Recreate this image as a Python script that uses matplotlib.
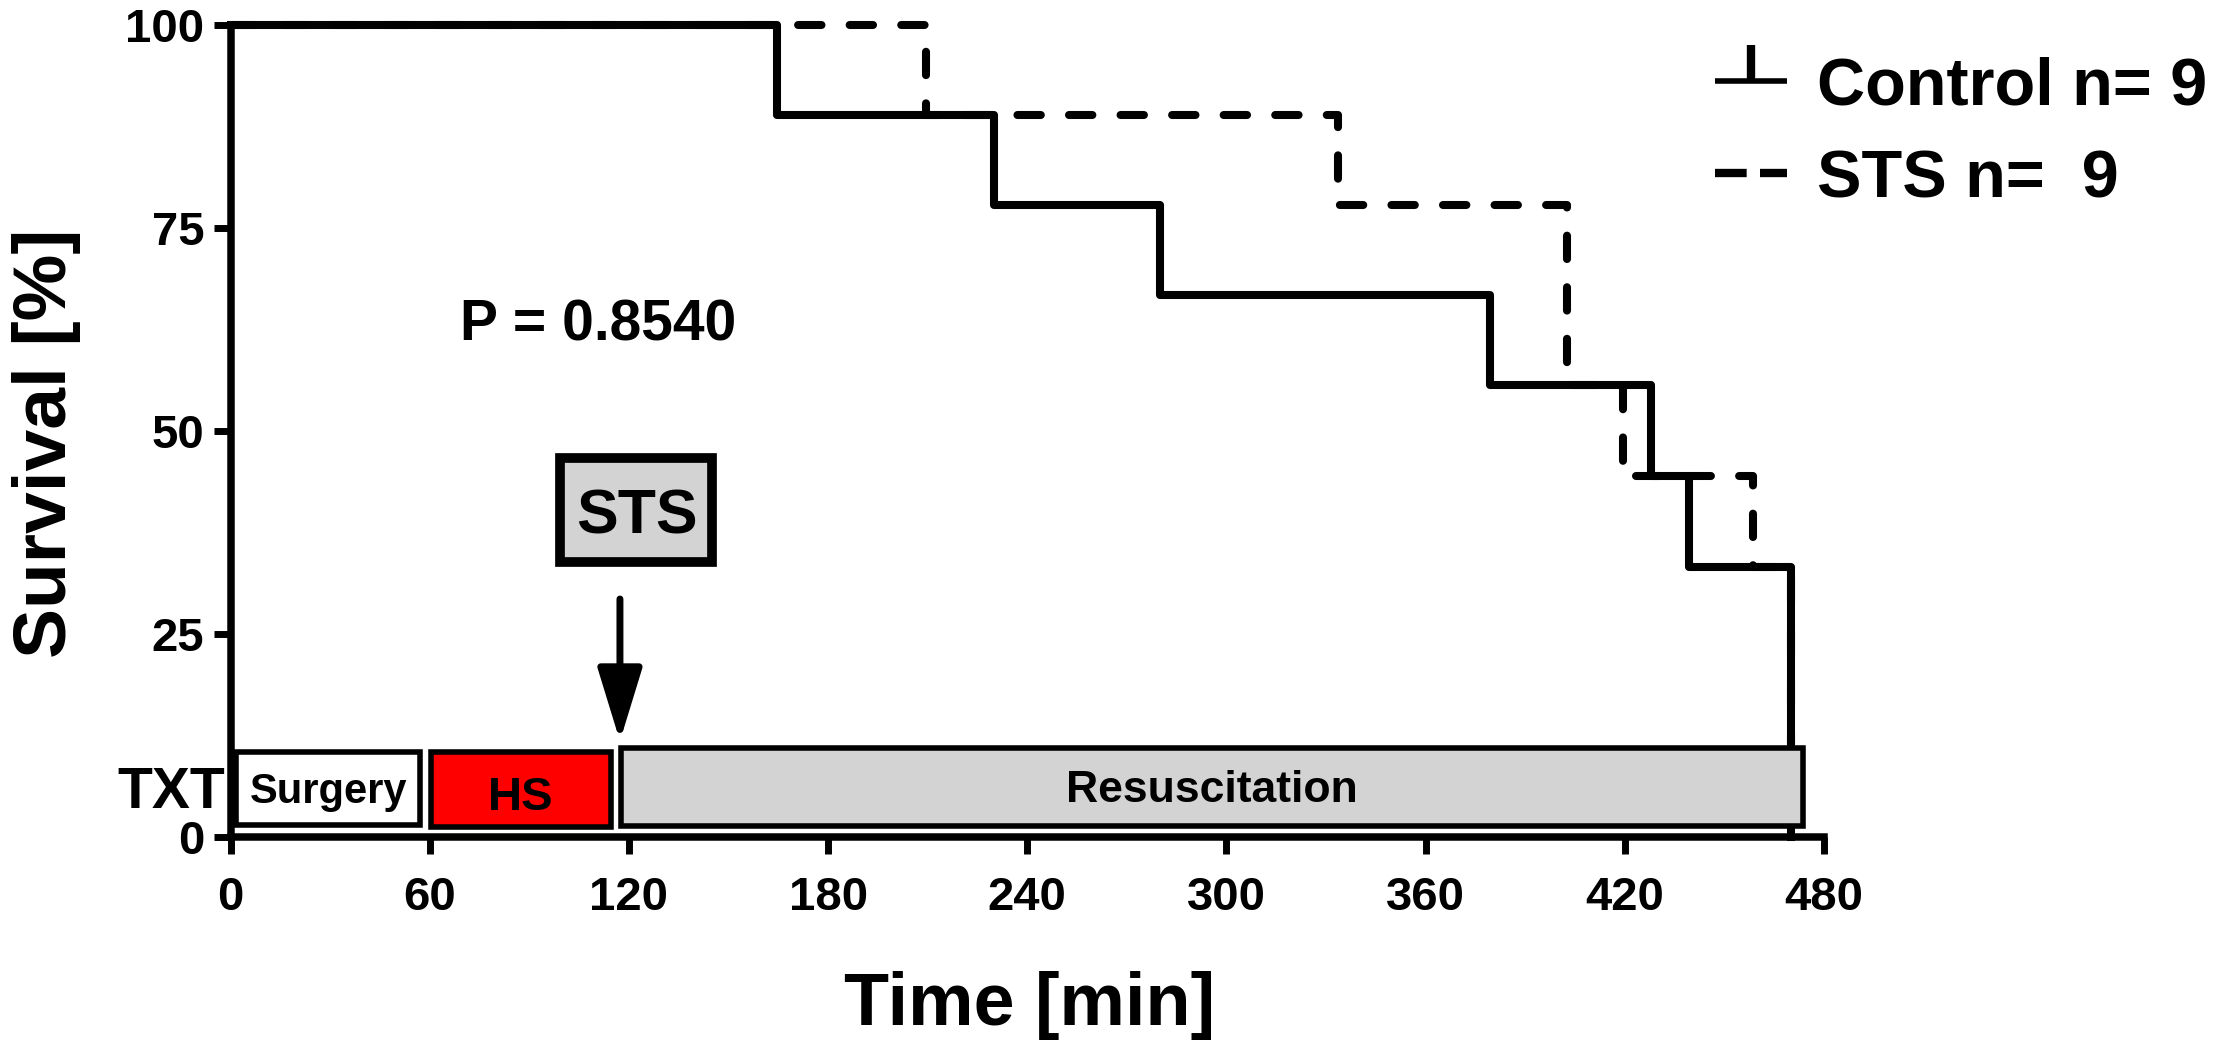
import matplotlib

matplotlib.use("Agg")
import matplotlib.pyplot as plt
from matplotlib.lines import Line2D
from matplotlib.patches import Rectangle

plt.rcParams["font.family"] = ["Liberation Sans", "DejaVu Sans"]
plt.rcParams["font.weight"] = "bold"

# Kaplan-Meier steps (time in min, survival in %)
control_t = [0, 164.5, 230, 280, 379.5, 428, 439.5, 470]
control_s = [100, 88.9, 77.8, 66.7, 55.6, 44.4, 33.3, 0]
sts_t = [0, 209.5, 333.5, 402.5, 419.5, 458.5, 470]
sts_s = [100, 88.9, 77.8, 55.6, 44.4, 33.3, 0]

# treatment timeline (TXT) phases
phases = ["Surgery", "HS", "Resuscitation"]
phase_start = [1.5, 60.5, 117.5]
phase_end = [57.2, 114.5, 473.7]
phase_lo = [1.5, 1.2, 1.35]
phase_hi = [10.4, 10.4, 11.0]
phase_color = ["white", "#ff0000", "#d3d3d3"]

xticks = [0, 60, 120, 180, 240, 300, 360, 420, 480]
yticks = [0, 25, 50, 75, 100]
legend_labels = ["Control n= 9", "STS n=  9"]
p_text = "P = 0.8540"
sts_time = 117.3

LW = 5.8
DASH = (2.9, 3.5)

fig = plt.figure(figsize=(22.17, 10.57), dpi=100)
ax = fig.add_axes([0.104, 0.2082, 0.7187, 0.7682])

ax.step(sts_t, sts_s, where="post", color="black", lw=LW,
        dashes=DASH, dash_capstyle="round", clip_on=False, zorder=3)
ax.step(control_t, control_s, where="post", color="black", lw=LW,
        clip_on=False, zorder=4)

# timeline bars sit on top of the curves
for a, b, lo, hi, c in zip(phase_start, phase_end, phase_lo, phase_hi, phase_color):
    ax.add_patch(Rectangle((a, lo), b - a, hi - lo, facecolor=c,
                           edgecolor="black", lw=4, zorder=5, clip_on=False))
ax.text(29.4, 4.2, phases[0], ha="center", va="baseline", fontsize=30, zorder=6)
ax.text(87.5, 3.3, phases[1], ha="center", va="baseline", fontsize=34, zorder=6)
ax.text(295.5, 4.3, phases[2], ha="center", va="baseline", fontsize=32, zorder=6)
ax.text(-1.5, 3.6, "TXT", ha="right", va="baseline", fontsize=41)

# STS marker box and arrow
ax.add_patch(Rectangle((99.2, 33.9), 45.8, 12.8, facecolor="#d3d3d3",
                       edgecolor="black", lw=7, zorder=5))
ax.text(122.3, 37.4, "STS", ha="center", va="baseline", fontsize=45, zorder=6)
ax.annotate("", xy=(sts_time, 11.8), xytext=(sts_time, 29.3),
            arrowprops=dict(arrowstyle="-|>,head_length=1.5,head_width=0.46",
                            mutation_scale=30, lw=5, color="black",
                            shrinkA=0, shrinkB=0), zorder=6)

ax.text(69, 61.1, p_text, ha="left", va="baseline", fontsize=41)

ax.set_xlim(0, 480)
ax.set_ylim(0, 100)
ax.set_xticks(xticks)
ax.set_yticks(yticks)
ax.tick_params(axis="both", direction="out", length=12, width=5, labelsize=34)
ax.tick_params(axis="x", pad=16)
ax.tick_params(axis="y", pad=7)
for lab in ax.get_xticklabels() + ax.get_yticklabels():
    lab.set_fontweight("bold")
for side in ["top", "right"]:
    ax.spines[side].set_visible(False)
for side in ["left", "bottom"]:
    ax.spines[side].set_linewidth(5.4)

fig.text(0.021, 0.581, "Survival [%]", rotation=90, ha="center", va="center",
         fontsize=54)
fig.text(0.4645, 0.030, "Time [min]", ha="center", va="baseline", fontsize=53)

# legend drawn by hand in figure coordinates
hx0, hx1 = 0.7736, 0.8061
fig.add_artist(Line2D([hx0, hx1], [0.9234, 0.9234], color="black", lw=4,
                      solid_capstyle="butt", transform=fig.transFigure))
fig.add_artist(Line2D([(hx0 + hx1) / 2], [0.9234], color="black", lw=0,
                      marker=2, markersize=26, markeredgewidth=6,
                      transform=fig.transFigure))
fig.add_artist(Line2D([hx0, hx1], [0.8363, 0.8363], color="black", lw=6,
                      dashes=(3.8, 1.6), dash_capstyle="butt",
                      transform=fig.transFigure))
fig.text(0.8196, 0.9007, legend_labels[0], ha="left", va="baseline", fontsize=48)
fig.text(0.8196, 0.8127, legend_labels[1], ha="left", va="baseline", fontsize=48)

fig.savefig("out.png", dpi=100)
